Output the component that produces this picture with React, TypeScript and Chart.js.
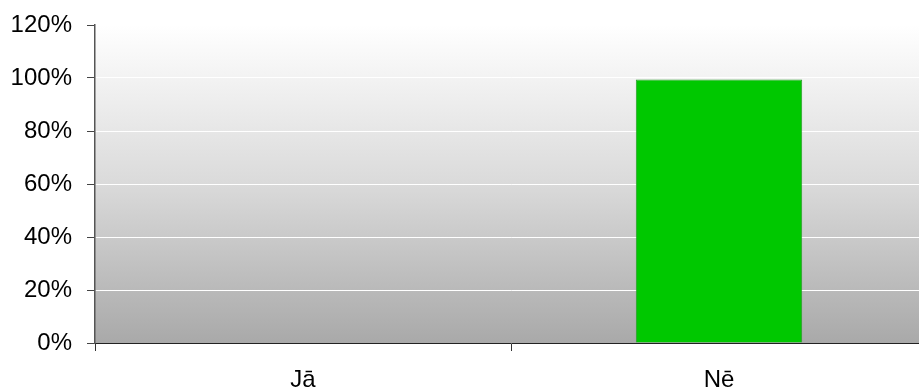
import React, { useEffect, useRef } from "react";
import { Chart, registerables } from "chart.js";

Chart.register(...registerables);

const categories: string[] = ["Jā", "Nē"];
const shares: number[] = [0, 99.4];
const yTicks: number[] = [0, 20, 40, 60, 80, 100, 120];

const FONT = "'Liberation Sans', Arial, sans-serif";

// Grey-to-white fade behind the plot area
const plotBackground = {
  id: "plotBackground",
  beforeDraw(chart: any) {
    const { ctx, chartArea } = chart;
    if (!chartArea) return;
    const g = ctx.createLinearGradient(0, chartArea.top, 0, chartArea.bottom);
    g.addColorStop(0, "#ffffff");
    g.addColorStop(0.5, "#dadada");
    g.addColorStop(1, "#a9a9a9");
    ctx.save();
    ctx.fillStyle = g;
    ctx.fillRect(chartArea.left, chartArea.top, chartArea.right - chartArea.left, chartArea.bottom - chartArea.top);
    ctx.restore();
  },
};

export default function App() {
  const ref = useRef<HTMLCanvasElement | null>(null);

  useEffect(() => {
    if (!ref.current) return;
    const chart = new Chart(ref.current, {
      type: "bar",
      data: {
        labels: categories,
        datasets: [
          {
            data: shares,
            backgroundColor: "#00c800",
            borderColor: "#2a9a2a",
            borderWidth: 1,
            categoryPercentage: 1,
            barPercentage: 0.4,
          },
        ],
      },
      plugins: [plotBackground],
      options: {
        animation: false,
        responsive: false,
        devicePixelRatio: 1,
        layout: { padding: { left: 0, right: 8, top: 25, bottom: 0 } },
        plugins: { legend: { display: false }, tooltip: { enabled: false } },
        scales: {
          x: {
            offset: true,
            grid: {
              offset: true,
              drawOnChartArea: false,
              tickLength: 8,
              tickColor: "#333333",
            },
            border: { color: "#222222", width: 1 },
            ticks: {
              color: "#000000",
              padding: 15,
              font: { family: FONT, size: 24 },
              maxRotation: 0,
            },
            afterFit(scale: any) {
              scale.height = 48;
            },
          },
          y: {
            min: 0,
            max: 120,
            afterBuildTicks(scale: any) {
              scale.ticks = yTicks.map((v) => ({ value: v }));
            },
            grid: {
              color: "#ffffff",
              lineWidth: 1,
              tickLength: 8,
              tickColor: "#444444",
            },
            border: { color: "#555555", width: 1.5 },
            ticks: {
              color: "#000000",
              padding: 15,
              font: { family: FONT, size: 24 },
              callback: (v: any) => `${v}%`,
            },
            afterFit(scale: any) {
              scale.width = 95;
              // keep the top tick mark flush with the plot's top edge
              scale.paddingTop = 0;
            },
          },
        },
      },
    });
    return () => chart.destroy();
  }, []);

  return (
    <div style={{ position: "fixed", left: 0, top: 0, width: 919, height: 391, overflow: "hidden", background: "#ffffff" }}>
      <canvas ref={ref} width={935} height={391} style={{ width: 935, height: 391, display: "block" }} />
    </div>
  );
}
